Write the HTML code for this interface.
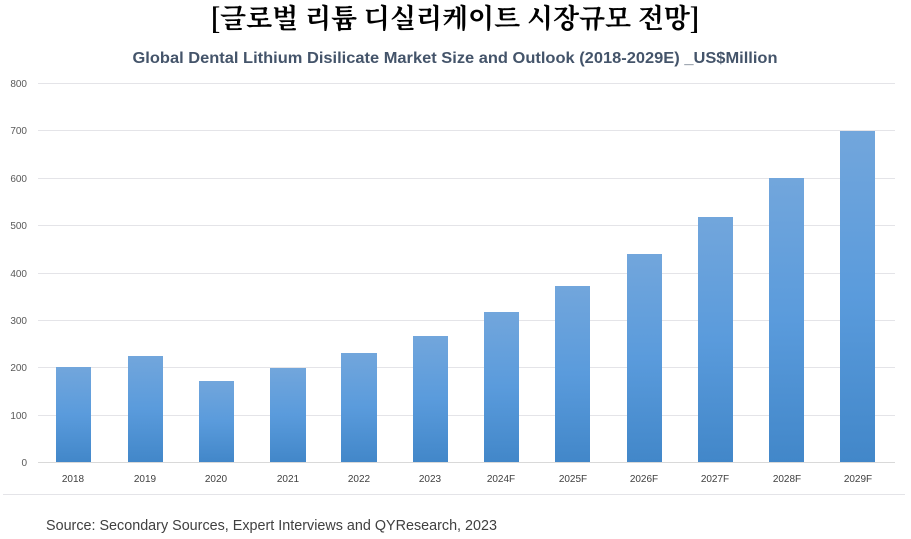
<!DOCTYPE html>
<html><head><meta charset="utf-8"><style>
body{margin:0;width:911px;height:539px;background:#fff;overflow:hidden}
svg{display:block}
</style></head><body>
<svg width="911" height="539" xmlns="http://www.w3.org/2000/svg">
<defs><linearGradient id="g" x1="0" y1="0" x2="0" y2="1">
<stop offset="0" stop-color="#72a6dc"/><stop offset="0.5" stop-color="#5a9bdc"/><stop offset="1" stop-color="#4287c9"/></linearGradient></defs>
<text x="455" y="28" text-anchor="middle" font-family="'Noto Serif CJK SC','Liberation Serif',serif" font-size="27" font-weight="bold" fill="#000" textLength="490" lengthAdjust="spacingAndGlyphs">[글로벌 리튬 디실리케이트 시장규모 전망]</text>
<text x="455" y="63" text-anchor="middle" font-family="'Liberation Sans',sans-serif" font-size="16" font-weight="bold" fill="#44546a" textLength="645" lengthAdjust="spacingAndGlyphs">Global  Dental Lithium Disilicate Market Size and Outlook (2018-2029E) _US$Million</text>
<g stroke="#e4e4e8" stroke-width="1">
<line x1="38" x2="895" y1="83.5" y2="83.5"/><line x1="38" x2="895" y1="130.5" y2="130.5"/><line x1="38" x2="895" y1="178.5" y2="178.5"/><line x1="38" x2="895" y1="225.5" y2="225.5"/><line x1="38" x2="895" y1="273.5" y2="273.5"/><line x1="38" x2="895" y1="320.5" y2="320.5"/><line x1="38" x2="895" y1="367.5" y2="367.5"/><line x1="38" x2="895" y1="415.5" y2="415.5"/>
</g>
<line x1="38" x2="895" y1="462.5" y2="462.5" stroke="#d9d9d9"/>
<line x1="3" x2="905" y1="494.5" y2="494.5" stroke="#e4e4e8"/>
<g font-family="'Liberation Sans',sans-serif" font-size="10" fill="#595959" text-anchor="end">
<text x="27" y="87">800</text><text x="27" y="134">700</text><text x="27" y="182">600</text><text x="27" y="229">500</text><text x="27" y="277">400</text><text x="27" y="324">300</text><text x="27" y="371">200</text><text x="27" y="419">100</text><text x="27" y="466">0</text>
</g>
<g fill="url(#g)">
<rect x="56" y="367" width="35" height="95"/>
<rect x="128" y="356" width="35" height="106"/>
<rect x="199" y="381" width="35" height="81"/>
<rect x="270" y="368" width="36" height="94"/>
<rect x="341" y="353" width="36" height="109"/>
<rect x="413" y="336" width="35" height="126"/>
<rect x="484" y="312" width="35" height="150"/>
<rect x="555" y="286" width="35" height="176"/>
<rect x="627" y="254" width="35" height="208"/>
<rect x="698" y="217" width="35" height="245"/>
<rect x="769" y="178" width="35" height="284"/>
<rect x="840" y="131" width="35" height="331"/>
</g>
<g font-family="'Liberation Sans',sans-serif" font-size="10" fill="#404040" text-anchor="middle">
<text x="73" y="482">2018</text><text x="145" y="482">2019</text><text x="216" y="482">2020</text><text x="288" y="482">2021</text><text x="359" y="482">2022</text><text x="430" y="482">2023</text><text x="501" y="482">2024F</text><text x="573" y="482">2025F</text><text x="644" y="482">2026F</text><text x="715" y="482">2027F</text><text x="787" y="482">2028F</text><text x="858" y="482">2029F</text>
</g>
<text x="46" y="530" font-family="'Liberation Sans',sans-serif" font-size="14.5" fill="#404040" textLength="451" lengthAdjust="spacingAndGlyphs">Source: Secondary Sources, Expert Interviews and QYResearch, 2023</text>
</svg>
</body></html>
